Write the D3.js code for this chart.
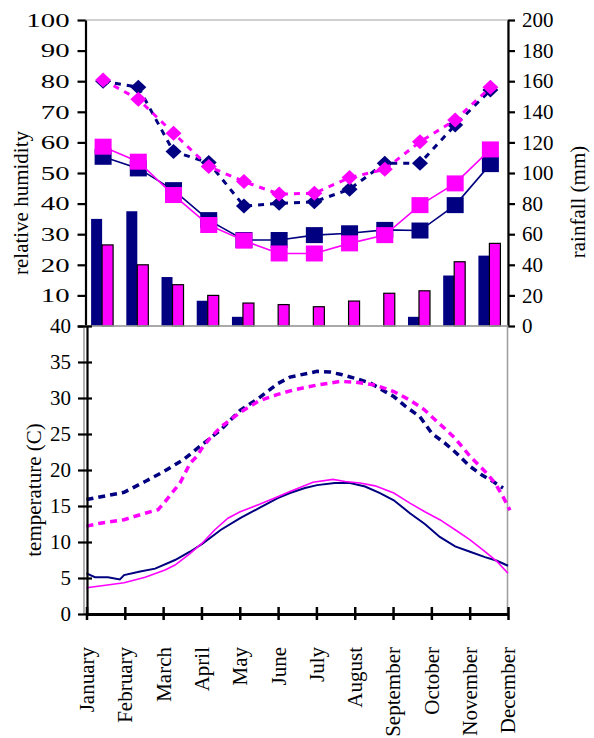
<!DOCTYPE html>
<html>
<head>
<meta charset="utf-8">
<script src="https://cdn.jsdelivr.net/npm/d3@7"></script>
<style>
  body { margin: 0; background: #fff; }
  svg text { font-family: "Liberation Serif", "Times New Roman", serif; fill: #000; }
</style>
</head>
<body>
<svg id="chart" width="594" height="738"></svg>
<script>
var months = ["January", "February", "March", "April", "May", "June", "July",
  "August", "September", "October", "November", "December"];

// rainfall (mm), right axis
var rainNavy = [70, 75, 32, 16.5, 6, 0, 0, 0, 0, 6, 33, 46];
var rainPink = [53, 40, 27, 20, 15, 14, 12.6, 16.3, 21.4, 23, 42, 54];

// relative humidity, left axis
var humDiamondNavy = [80, 78, 57, 53.4, 39.2, 40.1, 40.6, 44.7, 53.2, 53.2, 65.7, 77.1];
var humDiamondPink = [80.4, 74.1, 63, 52.1, 47.2, 43.1, 43.4, 48.5, 51.2, 60.2, 67.3, 78];
var humSquareNavy = [55.3, 51.5, 44.4, 34.6, 28.1, 28.1, 29.7, 30.3, 31.4, 31.2, 39.5, 52.9];
var humSquarePink = [58.6, 53.7, 42.8, 33, 27.9, 23.7, 23.7, 27, 29.7, 39.5, 46.6, 57.7];

// temperature (C): [month position, value]
var maxTempNavy = [[0, 15.9], [0.98, 16.9], [1.53, 18.4], [2.02, 19.8], [2.52, 21.4], [3.01, 23.5],
  [3.51, 25.6], [4.01, 28.3], [4.5, 30.0], [4.99, 32.0], [5.31, 32.9], [6.02, 33.7], [6.35, 33.6],
  [6.62, 33.3], [7.03, 32.7], [7.4, 32.1], [7.66, 31.3], [8.02, 30.2], [8.31, 28.9], [8.7, 27.4],
  [9.01, 25.1], [9.36, 23.7], [9.62, 22.5], [10.01, 20.5], [10.32, 19.3], [10.61, 18.4], [10.87, 17.5]];
var maxTempPink = [[0, 12.2], [0.35, 12.6], [0.98, 13.1], [1.53, 14.0], [1.87, 14.5], [2.02, 15.4],
  [2.23, 16.8], [2.44, 18.2], [2.7, 20.9], [2.88, 21.9], [3.01, 23.0], [3.22, 24.4], [3.51, 26.0],
  [4.01, 28.0], [4.5, 29.6], [4.99, 30.5], [5.39, 31.1], [6.02, 31.8], [6.62, 32.3], [7.03, 32.2],
  [7.53, 31.8], [8.02, 30.9], [8.44, 29.7], [8.81, 28.4], [9.01, 27.4], [9.3, 26.0], [9.62, 24.4],
  [10.01, 21.9], [10.4, 19.8], [10.66, 18.2], [10.87, 16.3], [11.05, 14.4]];
var minTempNavy = [[0, 5.65], [0.22, 5.1], [0.56, 5.1], [0.87, 4.8], [0.98, 5.4], [1.4, 5.9],
  [1.79, 6.3], [2.31, 7.5], [2.7, 8.65], [3.01, 9.7], [3.51, 11.7], [4.01, 13.3], [4.5, 14.7],
  [4.99, 16.1], [5.31, 16.8], [5.7, 17.5], [6.02, 17.9], [6.48, 18.2], [6.88, 18.2], [7.27, 17.7],
  [7.66, 16.8], [8.02, 15.8], [8.44, 14.0], [8.83, 12.5], [9.22, 10.7], [9.62, 9.4], [10.01, 8.65],
  [10.4, 7.9], [10.71, 7.4], [11, 6.7]];
var minTempPink = [[0, 3.65], [0.35, 3.9], [0.98, 4.35], [1.53, 5.1], [2.05, 6.1], [2.31, 6.8],
  [2.7, 8.4], [3.01, 9.8], [3.35, 11.7], [3.69, 13.3], [4.01, 14.2], [4.5, 15.2], [4.99, 16.3],
  [5.31, 17.0], [5.91, 18.3], [6.43, 18.7], [6.75, 18.4], [7.14, 18.2], [7.53, 17.8], [8.02, 16.8],
  [8.44, 15.4], [8.83, 14.2], [9.22, 13.1], [9.62, 11.7], [10.01, 10.3], [10.4, 8.65], [10.71, 7.3],
  [11, 5.65]];

var humTicks = [0, 10, 20, 30, 40, 50, 60, 70, 80, 90, 100];
var rainTicks = [0, 20, 40, 60, 80, 100, 120, 140, 160, 180, 200];
var tempTicks = [0, 5, 10, 15, 20, 25, 30, 35, 40];

var NAVY = "#000080", PINK = "#ff00ff";

var svg = d3.select("#chart");

var left = 85.5, right = 508,
    topY = 20, midY = 326, bottomY = 614;

// ---------- top chart ----------
var x = d3.scaleBand().domain(months).range([left, right]);
var yHum = d3.scaleLinear().domain([0, 100]).range([midY, topY]);
var yRain = d3.scaleLinear().domain([0, 200]).range([midY, topY]);

svg.append("rect")
  .attr("x", left).attr("y", topY)
  .attr("width", right - left).attr("height", midY - topY)
  .attr("fill", "none").attr("stroke", "#a0a0a0").attr("stroke-width", 1);

var barW = 11;
svg.append("g").selectAll("rect")
  .data(months).enter().append("rect")
  .attr("x", function(d) { return x(d) + x.bandwidth() / 2 - barW - 1; })
  .attr("y", function(d, i) { return yRain(rainNavy[i]); })
  .attr("width", barW)
  .attr("height", function(d, i) { return midY - yRain(rainNavy[i]); })
  .attr("fill", NAVY);

svg.append("g").selectAll("rect")
  .data(months).enter().append("rect")
  .attr("x", function(d) { return x(d) + x.bandwidth() / 2 - 1; })
  .attr("y", function(d, i) { return yRain(rainPink[i]); })
  .attr("width", barW)
  .attr("height", function(d, i) { return midY - yRain(rainPink[i]); })
  .attr("fill", PINK).attr("stroke", "#000").attr("stroke-width", 1.2);

var cx = function(i) { return x(months[i]) + x.bandwidth() / 2; };
var humLine = d3.line()
  .x(function(d, i) { return cx(i); })
  .y(function(d) { return yHum(d); });

function diamondSeries(vals, color) {
  svg.append("path")
    .datum(vals)
    .attr("d", humLine)
    .attr("fill", "none").attr("stroke", color)
    .attr("stroke-width", 3).attr("stroke-dasharray", "6,6");
  svg.append("g").selectAll("path")
    .data(vals).enter().append("path")
    .attr("d", function(d, i) {
      var px = cx(i), py = yHum(d);
      return "M" + px + "," + (py - 7.5) + "L" + (px + 8) + "," + py +
        "L" + px + "," + (py + 7.5) + "L" + (px - 8) + "," + py + "Z";
    })
    .attr("fill", color);
}

function squareSeries(vals, color) {
  svg.append("path")
    .datum(vals)
    .attr("d", humLine)
    .attr("fill", "none").attr("stroke", color).attr("stroke-width", 1.6);
  svg.append("g").selectAll("rect")
    .data(vals).enter().append("rect")
    .attr("x", function(d, i) { return cx(i) - 8.5; })
    .attr("y", function(d) { return yHum(d) - 8; })
    .attr("width", 17).attr("height", 16)
    .attr("fill", color);
}

diamondSeries(humDiamondNavy, NAVY);
diamondSeries(humDiamondPink, PINK);
squareSeries(humSquareNavy, NAVY);
squareSeries(humSquarePink, PINK);

// left axis (humidity)
var axHum = svg.append("g")
  .attr("transform", "translate(" + left + ",0)")
  .call(d3.axisLeft(yHum).tickValues(humTicks).tickSizeInner(8).tickSizeOuter(0)
    .tickFormat(function(d) { return d == 0 ? "" : d; }));
axHum.select(".domain").attr("stroke-width", 2.2);
axHum.selectAll(".tick line").attr("stroke-width", 2.2);
axHum.selectAll(".tick text")
  .attr("x", -10).attr("dy", "0.35em")
  .attr("transform", "scale(1.6,1)")
  .style("font-size", "18px").style("font-family", "'Liberation Serif', serif");

// right axis (rainfall)
var axRain = svg.append("g")
  .attr("transform", "translate(" + right + ",0)")
  .call(d3.axisRight(yRain).tickValues(rainTicks).tickSizeInner(7).tickSizeOuter(0).tickPadding(7));
axRain.select(".domain").attr("stroke-width", 2.2);
axRain.selectAll(".tick line").attr("stroke-width", 2.2);
axRain.selectAll(".tick text")
  .style("font-size", "21px").style("font-family", "'Liberation Serif', serif");

svg.append("text")
  .attr("transform", "translate(22,203) rotate(-90)")
  .attr("text-anchor", "middle").attr("dy", "0.3em")
  .style("font-size", "21px")
  .text("relative humidity");

svg.append("text")
  .attr("transform", "translate(579,202) rotate(-90)")
  .attr("text-anchor", "middle").attr("dy", "0.3em")
  .style("font-size", "21px")
  .text("rainfall (mm)");

// ---------- bottom chart ----------
var xT = d3.scaleLinear().domain([0, 11]).range([86.5, 508]);
var yT = d3.scaleLinear().domain([0, 40]).range([bottomY, midY]);

svg.append("rect")
  .attr("x", 84).attr("y", midY)
  .attr("width", 507.5 - 84).attr("height", bottomY - midY)
  .attr("fill", "none").attr("stroke", "#a0a0a0").attr("stroke-width", 1.6);

var tLine = d3.line()
  .x(function(d) { return xT(d[0]); })
  .y(function(d) { return yT(d[1]); });

svg.append("path").datum(minTempNavy).attr("d", tLine)
  .attr("fill", "none").attr("stroke", NAVY).attr("stroke-width", 2);
svg.append("path").datum(minTempPink).attr("d", tLine)
  .attr("fill", "none").attr("stroke", PINK).attr("stroke-width", 1.6);
svg.append("path").datum(maxTempNavy).attr("d", tLine)
  .attr("fill", "none").attr("stroke", NAVY).attr("stroke-width", 3.5)
  .attr("stroke-dasharray", "7,5");
svg.append("path").datum(maxTempPink).attr("d", tLine)
  .attr("fill", "none").attr("stroke", PINK).attr("stroke-width", 3.5)
  .attr("stroke-dasharray", "7,5");

var axT = svg.append("g")
  .attr("transform", "translate(87,0)")
  .call(d3.axisLeft(yT).tickValues(tempTicks).tickSizeInner(8).tickSizeOuter(0));
axT.select(".domain").attr("stroke-width", 2.2);
axT.selectAll(".tick line").attr("x1", 5).attr("x2", -9).attr("stroke-width", 2.2);
axT.selectAll(".tick text")
  .attr("x", -16)
  .style("font-size", "21px").style("font-family", "'Liberation Serif', serif");

var axM = svg.append("g")
  .attr("transform", "translate(0," + bottomY + ")")
  .call(d3.axisBottom(xT).tickValues(d3.range(12)).tickSizeInner(6).tickSizeOuter(0)
    .tickFormat(function(d) { return months[d]; }));
axM.select(".domain").attr("stroke-width", 3);
axM.selectAll(".tick line").attr("y1", -7).attr("y2", 6).attr("stroke-width", 2.5);
axM.selectAll(".tick text")
  .attr("transform", "rotate(-90)")
  .attr("text-anchor", "end")
  .attr("x", -33).attr("y", 0).attr("dy", "0.33em")
  .style("font-size", "21px").style("font-family", "'Liberation Serif', serif");

svg.append("text")
  .attr("transform", "translate(35,490) rotate(-90)")
  .attr("text-anchor", "middle").attr("dy", "0.3em")
  .style("font-size", "21px")
  .text("temperature (C)");
</script>
</body>
</html>
